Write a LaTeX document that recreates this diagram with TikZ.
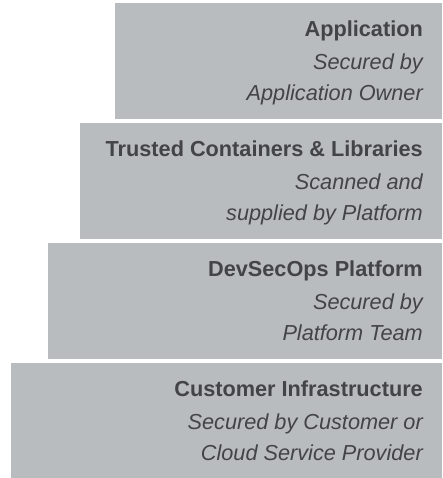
\documentclass[tikz,border=0pt]{standalone}
\usepackage{fontspec}
\setmainfont{Liberation Sans}
\usetikzlibrary{calc}
\definecolor{boxgrey}{RGB}{185,188,191}
\definecolor{txtgrey}{RGB}{66,68,71}
\tikzset{
  layer/.style={fill=boxgrey, draw=none, inner sep=0pt, outer sep=0pt, anchor=north east},
  ttl/.style={anchor=base east, inner sep=0pt, text=txtgrey, font=\fontsize{21.7}{24}\selectfont\bfseries},
  sub/.style={anchor=base east, inner sep=0pt, text=txtgrey, font=\fontsize{21.7}{24}\selectfont\itshape},
}
\begin{document}
\begin{tikzpicture}[x=1pt,y=1pt]
\useasboundingbox (0,0) rectangle (442,478);
\node[layer, minimum width=327pt, minimum height=116pt] (box1) at (442,475) {};
\node[layer, minimum width=362pt, minimum height=116pt] (box2) at (442,355) {};
\node[layer, minimum width=394pt, minimum height=116pt] (box3) at (442,235) {};
\node[layer, minimum width=431pt, minimum height=115pt] (box4) at (442,115) {};
% box 1
\node[ttl] (t1) at ($(box1.north east)+(-19,-33.5)$) {Application};
\node[sub] (a1) at ($(box1.north east)+(-19,-66.5)$) {Secured by};
\node[sub] (b1) at ($(box1.north east)+(-19,-97.5)$) {Application Owner};
% box 2
\node[ttl] (t2) at ($(box2.north east)+(-19,-33.5)$) {Trusted Containers \& Libraries};
\node[sub] (a2) at ($(box2.north east)+(-19,-66.5)$) {Scanned and};
\node[sub] (b2) at ($(box2.north east)+(-19,-97.5)$) {supplied by Platform};
% box 3
\node[ttl] (t3) at ($(box3.north east)+(-19,-33.5)$) {DevSecOps Platform};
\node[sub] (a3) at ($(box3.north east)+(-19,-66.5)$) {Secured by};
\node[sub] (b3) at ($(box3.north east)+(-19,-97.5)$) {Platform Team};
% box 4
\node[ttl] (t4) at ($(box4.north east)+(-19,-33.5)$) {Customer Infrastructure};
\node[sub] (a4) at ($(box4.north east)+(-19,-66.5)$) {Secured by Customer or};
\node[sub] (b4) at ($(box4.north east)+(-19,-97.5)$) {Cloud Service Provider};
\end{tikzpicture}
\end{document}
